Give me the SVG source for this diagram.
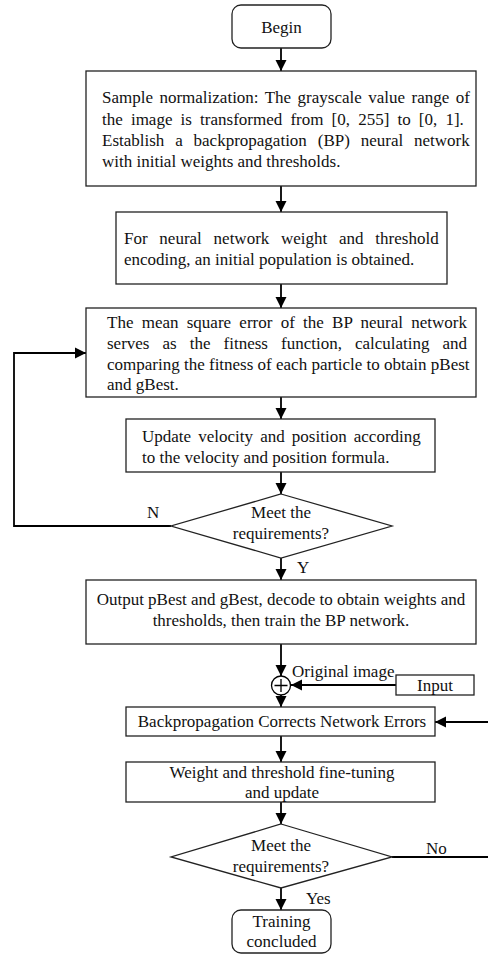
<svg xmlns="http://www.w3.org/2000/svg" width="488" height="954" viewBox="0 0 488 954">
<defs>
<marker id="ah" markerUnits="userSpaceOnUse" markerWidth="12" markerHeight="12" viewBox="0 0 12 12" refX="11" refY="6" orient="auto">
<path d="M0,0.5 L11,6 L0,11.5 Z" fill="#000"/>
</marker>
<style>
.box{fill:#fff;stroke:#222;stroke-width:1.3}
.t{font-family:"Liberation Serif","Times New Roman",serif;font-size:17px;fill:#111}
.c{text-anchor:middle}
.ln{fill:none;stroke:#000;stroke-width:1.8}
.ar{fill:none;stroke:#000;stroke-width:1.8;marker-end:url(#ah)}
</style>
</defs>
<rect width="488" height="954" fill="#fff"/>
<g id="connectors">
<line class="ar" x1="281" y1="48" x2="281" y2="71"/>
<line class="ar" x1="281" y1="186" x2="281" y2="212"/>
<line class="ar" x1="281" y1="284" x2="281" y2="308"/>
<line class="ar" x1="281" y1="397" x2="281" y2="419"/>
<line class="ar" x1="281" y1="472" x2="281" y2="494"/>
<polyline class="ar" points="171,526 14,526 14,353 86,353"/>
<line class="ar" x1="281" y1="558" x2="281" y2="580"/>
<line class="ar" x1="281" y1="644" x2="281" y2="676"/>
<line class="ar" x1="396" y1="685" x2="291" y2="685"/>
<line class="ar" x1="281" y1="695" x2="281" y2="707"/>
<line class="ar" x1="489" y1="722" x2="435" y2="722"/>
<line class="ln" x1="392" y1="857" x2="489" y2="857"/>
<line class="ar" x1="281" y1="736" x2="281" y2="762"/>
<line class="ar" x1="281" y1="802" x2="281" y2="824"/>
<line class="ar" x1="281" y1="888" x2="281" y2="910"/>
<text class="t" x="147" y="518">N</text>
<text class="t" x="297" y="573">Y</text>
<text class="t" x="306" y="904">Yes</text>
<text class="t" x="426" y="854">No</text>
<text class="t" x="292" y="677">Original image</text>
</g>
<g id="begin">
<rect class="box" x="232" y="5" width="99" height="43" rx="9"/>
<text class="t c" x="281.5" y="33">Begin</text>
</g>
<g id="normalize">
<rect class="box" x="86" y="71" width="390" height="115"/>
<text class="t" x="102" y="103" word-spacing="2.2">Sample normalization: The grayscale value range of</text>
<text class="t" x="102" y="124.5" word-spacing="3.9">the image is transformed from [0, 255] to [0, 1].</text>
<text class="t" x="102" y="146" word-spacing="6.6">Establish a backpropagation (BP) neural network</text>
<text class="t" x="102" y="167">with initial weights and thresholds.</text>
</g>
<g id="encode">
<rect class="box" x="116" y="212" width="331" height="72"/>
<text class="t" x="124" y="244" word-spacing="7.5">For neural network weight and threshold</text>
<text class="t" x="124" y="265">encoding, an initial population is obtained.</text>
</g>
<g id="fitness">
<rect class="box" x="86" y="308" width="390" height="89"/>
<text class="t" x="107" y="328" word-spacing="4">The mean square error of the BP neural network</text>
<text class="t" x="107" y="349" word-spacing="8.8">serves as the fitness function, calculating and</text>
<text class="t" x="107" y="370">comparing the fitness of each particle to obtain pBest</text>
<text class="t" x="107" y="390">and gBest.</text>
</g>
<g id="update">
<rect class="box" x="126" y="419" width="309" height="53"/>
<text class="t" x="142" y="442" word-spacing="2.9">Update velocity and position according</text>
<text class="t" x="142" y="463">to the velocity and position formula.</text>
</g>
<g id="decision1">
<polygon class="box" points="281,494 392,526 281,558 171,526"/>
<text class="t c" x="281" y="518">Meet the</text>
<text class="t c" x="281" y="539">requirements?</text>
</g>
<g id="output">
<rect class="box" x="86" y="580" width="390" height="64"/>
<text class="t c" x="281" y="605">Output pBest and gBest, decode to obtain weights and</text>
<text class="t c" x="281" y="626">thresholds, then train the BP network.</text>
</g>
<g id="sum">
<circle cx="281" cy="685.5" r="9.5" fill="#fff" stroke="#000" stroke-width="1.3"/>
<path d="M281,679 V692 M274.5,685.5 H287.5" stroke="#000" stroke-width="1.3" fill="none"/>
</g>
<g id="input">
<rect class="box" x="396" y="675" width="78" height="20"/>
<text class="t c" x="435" y="691">Input</text>
</g>
<g id="backprop">
<rect class="box" x="126" y="707" width="309" height="29"/>
<text class="t c" x="282" y="727">Backpropagation Corrects Network Errors</text>
</g>
<g id="finetune">
<rect class="box" x="126" y="762" width="309" height="40"/>
<text class="t c" x="282" y="778">Weight and threshold fine-tuning</text>
<text class="t c" x="282" y="798">and update</text>
</g>
<g id="decision2">
<polygon class="box" points="281,824 392,857 281,888 171,857"/>
<text class="t c" x="281" y="851">Meet the</text>
<text class="t c" x="281" y="872">requirements?</text>
</g>
<g id="end">
<rect class="box" x="232" y="910" width="99" height="43" rx="9"/>
<text class="t c" x="281.5" y="927">Training</text>
<text class="t c" x="281.5" y="947">concluded</text>
</g>
</svg>
